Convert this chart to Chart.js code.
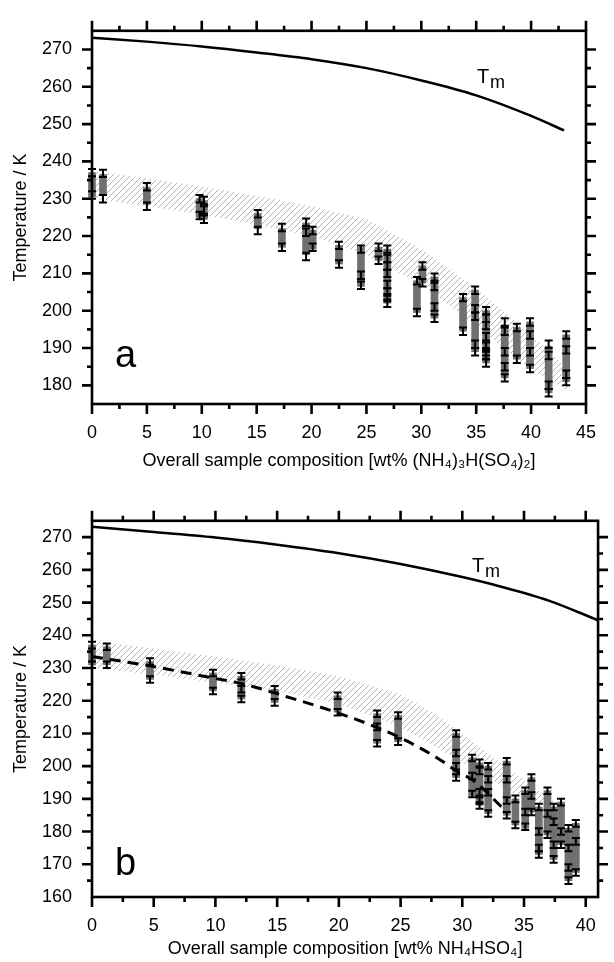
<!DOCTYPE html>
<html>
<head>
<meta charset="utf-8">
<script src="https://cdn.jsdelivr.net/npm/chart.js@4.4.1/dist/chart.umd.min.js"></script>
<style>
  html, body { margin: 0; padding: 0; background: #fff; }
  #wrap { position: relative; width: 614px; height: 962px; }
  canvas { position: absolute; left: 0; }
</style>
</head>
<body>
<div id="wrap">
  <canvas id="chartA" width="614" height="490" style="top:0"></canvas>
  <canvas id="chartB" width="614" height="472" style="top:490px"></canvas>
</div>
<script>
const FONT = '"Liberation Sans", Arial, Helvetica, sans-serif';

// ---- panel a: (NH4)3H(SO4)2 ----
const tmA_x = [0, 5, 10, 15, 20, 25, 30, 35, 40, 43];
const tmA_y = [273.15, 272.1, 270.8, 269.2, 267.4, 265.0, 261.7, 257.7, 252.2, 248.3];

const bandA_x  = [0, 5, 10, 15, 20, 25, 30, 35, 40, 43.5];
const bandA_hi = [237.5, 235.5, 233.3, 230.8, 228, 224.5, 216.5, 206, 193.5, 184];
const bandA_lo = [230, 228, 225.7, 223, 220, 215, 207, 196, 184, 178.5];

const sampA_x  = [0, 1, 5, 9.8, 10.2, 15.1, 17.3, 19.5, 20.1, 22.5, 24.5, 26.1, 26.9, 29.6, 30.1, 31.2, 33.8, 34.9, 35.9, 37.6, 38.7, 39.9, 41.6, 43.2];
const sampA_lo = [230.5, 231, 228.5, 225, 224.5, 222, 217, 215, 216.5, 212.5, 206.5, 213.5, 202, 199.5, 207.5, 198, 194.5, 189, 186, 182, 187, 184.5, 178, 181];
const sampA_hi = [237, 236.5, 233, 230, 229.5, 226, 222, 223.5, 221.5, 217.5, 217, 217, 216.5, 208, 212, 209, 203.5, 205.5, 200, 196, 195.5, 197, 190.5, 193.5];
const sampA_marks = [
  [237, 231], [236.8, 230], [233.2, 228], [230, 225.5], [229.5, 227, 224.5],
  [226, 221.5], [222.3, 217], [223.7, 221, 214.5], [221.5, 217], [217.5, 212.5],
  [216.5, 209.5, 206.8], [217, 213.5], [216.5, 214, 212, 210, 207, 205, 203.5, 202],
  [208, 199.5], [212, 207.5], [209, 206.5, 201, 198], [203.5, 194.5],
  [205.5, 200.5, 198.5, 191, 189], [200, 198, 196, 193, 190.5, 189, 188, 186],
  [197, 194.5, 189, 185, 182], [195.5, 187], [197, 193.5, 189, 184.5],
  [191, 188, 180, 178], [193.5, 189.5, 183, 181]
];

// ---- panel b: NH4HSO4 ----
const tmB_x = [0, 5, 10, 15, 20, 25, 30, 33, 37, 41];
const tmB_y = [273.15, 271.6, 269.9, 267.7, 265.1, 261.8, 257.8, 255.0, 250.6, 244.6];

const bandB_x  = [0, 5, 10, 15, 20, 25, 28, 31, 34, 36, 37.5];
const bandB_hi = [238.5, 236, 233.5, 230.8, 227.5, 222, 215.5, 207, 198.5, 193, 189];
const bandB_lo = [230, 228, 225.5, 223, 219, 212, 205.5, 199, 192, 189, 187];

const fitB_x = [0, 4.9, 9.7, 12.4, 15.1, 19.9, 23.1, 25.5, 28.1, 29.7, 30.9, 33.3];
const fitB_y = [233.5, 230.5, 227, 225, 222, 216.3, 211.8, 207.7, 202.2, 198.1, 195.6, 187.1];

const sampB_x  = [0, 1.2, 4.7, 9.8, 12.1, 14.8, 19.9, 23.1, 24.8, 29.5, 30.8, 31.4, 32.1, 33.6, 34.3, 35.1, 35.6, 36.2, 36.9, 37.4, 38.0, 38.6, 39.2];
const sampB_lo = [231, 231, 226.5, 223, 220.5, 219.5, 216.5, 207, 207.5, 196.5, 191, 188, 185.5, 185, 182, 181, 186, 173, 179, 171.5, 176, 165, 167.5];
const sampB_hi = [237, 236.5, 232, 228.5, 227.5, 223.5, 221.5, 216, 215.5, 210, 202.5, 201, 200, 201.5, 190, 192.5, 196.5, 187.5, 192.5, 187.5, 189, 181, 182.5];
const sampB_marks = [
  [237, 231], [236.5, 231], [232, 226.5], [228.5, 223], [227.5, 223.5, 220.5],
  [223.5, 219.5], [221.5, 216.5], [216, 212, 207], [215.5, 207.5],
  [210, 204, 200, 196.5], [202.5, 197, 191.5], [201, 198.5, 192, 189.5, 188],
  [200, 196, 192, 185.5], [201.5, 196, 189.5, 185], [190, 182],
  [192.5, 186, 181.5], [196.5, 191, 186], [187.5, 180, 175, 173],
  [192.5, 185.5, 179], [187.5, 183, 176, 171.5], [189, 180, 176],
  [181, 175, 169, 165], [182.5, 177, 167.5]
];

const xTicksA = [0, 5, 10, 15, 20, 25, 30, 35, 40, 45];
const yTicksA = [180, 190, 200, 210, 220, 230, 240, 250, 260, 270];
const xTicksB = [0, 5, 10, 15, 20, 25, 30, 35, 40];
const yTicksB = [160, 170, 180, 190, 200, 210, 220, 230, 240, 250, 260, 270];

const ERR = 1.0; // half length of each error bar, K

function hatch() {
  const c = document.createElement('canvas');
  c.width = 6; c.height = 6;
  const g = c.getContext('2d');
  g.strokeStyle = '#b2b2b2';
  g.lineWidth = 1;
  g.beginPath();
  g.moveTo(-1, 7); g.lineTo(7, -1);
  g.moveTo(-1, 1); g.lineTo(1, -1);
  g.moveTo(5, 7); g.lineTo(7, 5);
  g.stroke();
  return g.createPattern(c, 'repeat');
}

const decor = {
  id: 'decor',
  afterDatasetsDraw(chart, args, o) {
    const { ctx, scales: { x, y } } = chart;
    ctx.save();
    ctx.strokeStyle = '#000';
    ctx.lineWidth = 2;
    o.sx.forEach((sx, i) => {
      const px = x.getPixelForValue(sx);
      o.marks[i].forEach(t => {
        const y1 = y.getPixelForValue(t + ERR), y2 = y.getPixelForValue(t - ERR);
        ctx.beginPath();
        ctx.moveTo(px, y1); ctx.lineTo(px, y2);
        ctx.moveTo(px - 4, y1); ctx.lineTo(px + 4, y1);
        ctx.moveTo(px - 4, y2); ctx.lineTo(px + 4, y2);
        ctx.stroke();
      });
    });
    ctx.restore();
  },
  afterDraw(chart, args, o) {
    const { ctx, chartArea: a, scales: { x, y } } = chart;
    ctx.save();
    ctx.strokeStyle = '#000';
    ctx.lineWidth = 2.6;
    ctx.strokeRect(a.left, a.top, a.right - a.left, a.bottom - a.top);
    ctx.beginPath();
    for (let v = 0; v <= x.max + 1e-6; v += 2.5) {
      const px = x.getPixelForValue(v);
      const len = v % 5 === 0 ? 10 : 5;
      ctx.moveTo(px, a.top); ctx.lineTo(px, a.top - len);
      ctx.moveTo(px, a.bottom); ctx.lineTo(px, a.bottom + len);
    }
    for (let v = Math.ceil(y.min / 5) * 5; v <= y.max + 1e-6; v += 5) {
      if (v === y.min || v === y.max) continue;
      const py = y.getPixelForValue(v);
      const len = v % 10 === 0 ? 10 : 5;
      ctx.moveTo(a.left, py); ctx.lineTo(a.left - len, py);
      ctx.moveTo(a.right, py); ctx.lineTo(a.right + len, py);
    }
    ctx.stroke();

    ctx.fillStyle = '#000';
    ctx.textBaseline = 'alphabetic';
    ctx.textAlign = 'left';
    ctx.font = '20px ' + FONT;
    ctx.fillText('T', o.tm[0], o.tm[1]);
    ctx.font = '18px ' + FONT;
    ctx.fillText('m', o.tm[0] + 13, o.tm[1] + 5);
    ctx.font = '38px ' + FONT;
    ctx.fillText(o.letter, o.letterPos[0], o.letterPos[1]);
    ctx.restore();
  }
};

function xy(xs, ys) {
  return xs.map((v, i) => ({ x: v, y: ys[i] }));
}

function makeChart(id, c) {
  const datasets = [
    { type: 'line', data: xy(c.bandX, c.bandLo), borderWidth: 0, pointRadius: 0, fill: false, order: 5 },
    { type: 'line', data: xy(c.bandX, c.bandHi), borderWidth: 0, pointRadius: 0, fill: '-1', backgroundColor: hatch(), order: 5 },
    { type: 'bar', data: c.sx.map((v, i) => ({ x: v, y: [c.lo[i], c.hi[i]] })), backgroundColor: '#707070', barThickness: 7, clip: false, order: 3 },
    { type: 'line', data: xy(c.tmX, c.tmY), borderColor: '#000', borderWidth: 2.5, pointRadius: 0, fill: false, cubicInterpolationMode: 'monotone', order: 1 }
  ];
  if (c.fitX) {
    datasets.push({ type: 'line', data: xy(c.fitX, c.fitY), borderColor: '#000', borderWidth: 3, borderDash: [11, 7], pointRadius: 0, fill: false, cubicInterpolationMode: 'monotone', order: 2 });
  }
  return new Chart(document.getElementById(id), {
    type: 'bar',
    data: { datasets },
    plugins: [decor],
    options: {
      responsive: false,
      animation: false,
      events: [],
      layout: { padding: { top: c.padTop, right: c.padRight, left: 0, bottom: 0 } },
      plugins: {
        legend: { display: false },
        tooltip: { enabled: false },
        decor: { sx: c.sx, marks: c.marks, tm: c.tm, letter: c.letter, letterPos: c.letterPos }
      },
      scales: {
        x: {
          type: 'linear', min: 0, max: c.xMax, offset: false,
          grid: { display: false, drawTicks: false, offset: false },
          border: { display: false },
          afterBuildTicks: s => { s.ticks = c.xTicks.map(v => ({ value: v })); },
          afterFit: s => { s.height = c.xH; },
          ticks: { color: '#000', font: { family: FONT, size: 18 }, padding: 18, maxRotation: 0, autoSkip: false },
          title: { display: true, text: c.xTitle, color: '#000', font: { family: FONT, size: 18 }, padding: { top: 0, bottom: c.xTitlePad } }
        },
        y: {
          type: 'linear', min: c.yMin, max: 275,
          grid: { display: false, drawTicks: false },
          border: { display: false },
          afterBuildTicks: s => { s.ticks = c.yTicks.map(v => ({ value: v })); },
          afterFit: s => { s.width = 92; },
          ticks: { color: '#000', font: { family: FONT, size: 18 }, padding: 20 },
          title: { display: true, text: 'Temperature / K', color: '#000', font: { family: FONT, size: 18 }, padding: { top: 10, bottom: 0 } }
        }
      }
    }
  });
}

makeChart('chartA', {
  tmX: tmA_x, tmY: tmA_y, bandX: bandA_x, bandHi: bandA_hi, bandLo: bandA_lo,
  sx: sampA_x, lo: sampA_lo, hi: sampA_hi, marks: sampA_marks,
  xTicks: xTicksA, yTicks: yTicksA, xMax: 45, yMin: 175,
  padTop: 25, padRight: 12, xH: 86, xTitlePad: 18,
  xTitle: 'Overall sample composition [wt% (NH₄)₃H(SO₄)₂]',
  tm: [477, 83], letter: 'a', letterPos: [115, 367]
});

makeChart('chartB', {
  tmX: tmB_x, tmY: tmB_y, bandX: bandB_x, bandHi: bandB_hi, bandLo: bandB_lo,
  fitX: fitB_x, fitY: fitB_y,
  sx: sampB_x, lo: sampB_lo, hi: sampB_hi, marks: sampB_marks,
  xTicks: xTicksB, yTicks: yTicksB, xMax: 41, yMin: 160,
  padTop: 28, padRight: 11, xH: 65, xTitlePad: 2,
  xTitle: 'Overall sample composition [wt% NH₄HSO₄]',
  tm: [472, 82], letter: 'b', letterPos: [115, 385]
});
</script>
</body>
</html>
